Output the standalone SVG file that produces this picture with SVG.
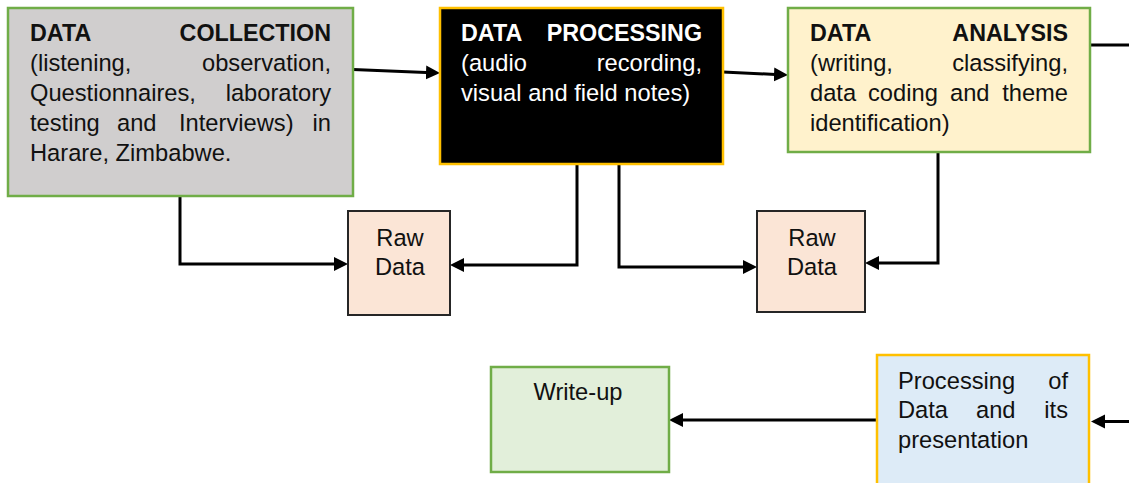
<svg xmlns="http://www.w3.org/2000/svg" width="1129" height="483" viewBox="0 0 1129 483">
  <defs>
    <style>
      text { font-family: "Liberation Sans", Arial, sans-serif; font-size: 23.7px; fill: #111; }
      .b { font-weight: bold; font-size: 23.3px; }
      .w { fill: #fff; }
      .e { text-anchor: end; }
      .m { text-anchor: middle; }
      .box { stroke-width: 2.5; }
      .raw { fill: #FBE5D6; stroke: #262626; stroke-width: 2; }
      .conn { fill: none; stroke: #000; stroke-width: 3; }
    </style>
    <marker id="arrow" markerUnits="userSpaceOnUse" markerWidth="16" markerHeight="16" refX="6" refY="7" orient="auto">
      <path d="M0,0 L14,7 L0,14 z" fill="#000"/>
    </marker>
  </defs>

  <rect width="1129" height="483" fill="#fff"/>

  <!-- connectors -->
  <g id="connectors" class="conn">
    <path d="M353,69.5 L432,72.7" marker-end="url(#arrow)"/>
    <path d="M723,72 L780,74.7" marker-end="url(#arrow)"/>
    <path d="M1090,45 L1129,45"/>
    <path d="M180,196 L180,264 L340,264" marker-end="url(#arrow)"/>
    <path d="M577,164 L577,265 L458,265" marker-end="url(#arrow)"/>
    <path d="M619,164 L619,267 L749,267" marker-end="url(#arrow)"/>
    <path d="M938,152 L938,263 L873,263" marker-end="url(#arrow)"/>
    <path d="M877,420 L677,420" marker-end="url(#arrow)"/>
    <path d="M1129,421.5 L1099,421.5" marker-end="url(#arrow)"/>
  </g>

  <!-- data collection -->
  <g id="data-collection">
    <rect class="box" x="8" y="8" width="345" height="188" fill="#D0CECE" stroke="#70AD47"/>
    <text class="b" x="30" y="41">DATA</text>
    <text class="b e" x="331" y="41">COLLECTION</text>
    <text x="30" y="71">(listening,</text>
    <text class="e" x="331" y="71">observation,</text>
    <text x="30" y="101">Questionnaires,</text>
    <text class="e" x="331" y="101">laboratory</text>
    <text x="30" y="131">testing</text>
    <text x="117" y="131">and</text>
    <text x="179" y="131">Interviews)</text>
    <text class="e" x="331" y="131">in</text>
    <text x="30" y="161">Harare, Zimbabwe.</text>
  </g>

  <!-- data processing -->
  <g id="data-processing">
    <rect class="box" x="440" y="8" width="283" height="156" fill="#000" stroke="#FFC000"/>
    <text class="b w" x="461" y="41">DATA</text>
    <text class="b w e" x="702" y="41">PROCESSING</text>
    <text class="w" x="461" y="71">(audio</text>
    <text class="w e" x="702" y="71">recording,</text>
    <text class="w" x="461" y="101">visual and field notes)</text>
  </g>

  <!-- data analysis -->
  <g id="data-analysis">
    <rect class="box" x="788" y="8" width="302" height="144" fill="#FFF2CC" stroke="#70AD47"/>
    <text class="b" x="810" y="41">DATA</text>
    <text class="b e" x="1068" y="41">ANALYSIS</text>
    <text x="810" y="71">(writing,</text>
    <text class="e" x="1068" y="71">classifying,</text>
    <text x="810" y="101">data</text>
    <text x="868" y="101">coding</text>
    <text x="950" y="101">and</text>
    <text class="e" x="1068" y="101">theme</text>
    <text x="810" y="131">identification)</text>
  </g>

  <!-- raw data stores -->
  <g id="raw-data-1">
    <rect class="raw" x="348" y="211" width="102" height="104"/>
    <text class="m" x="400" y="246">Raw</text>
    <text class="m" x="400" y="275">Data</text>
  </g>
  <g id="raw-data-2">
    <rect class="raw" x="757" y="211" width="108" height="101"/>
    <text class="m" x="812" y="246">Raw</text>
    <text class="m" x="812" y="275">Data</text>
  </g>

  <!-- write-up -->
  <g id="write-up">
    <rect class="box" x="491" y="367" width="178" height="105" fill="#E2EFDA" stroke="#70AD47"/>
    <text class="m" x="578" y="400">Write-up</text>
  </g>

  <!-- processing and presentation -->
  <g id="processing-presentation">
    <rect class="box" x="877" y="355" width="212" height="140" fill="#DDEBF7" stroke="#FFC000"/>
    <text x="898" y="389">Processing</text>
    <text class="e" x="1068" y="389">of</text>
    <text x="898" y="418">Data</text>
    <text x="976" y="418">and</text>
    <text class="e" x="1068" y="418">its</text>
    <text x="898" y="448">presentation</text>
  </g>
</svg>
